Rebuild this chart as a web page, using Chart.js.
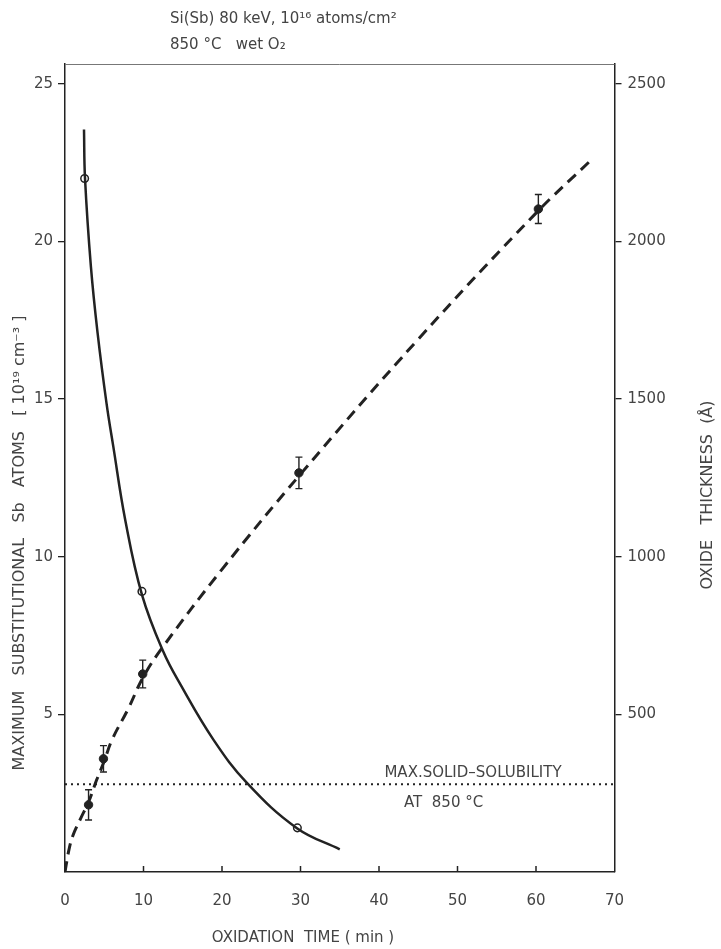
<!DOCTYPE html>
<html>
<head>
<meta charset="utf-8">
<script src="https://cdn.jsdelivr.net/npm/chart.js@4"></script>
<style>
  html, body { margin: 0; padding: 0; background: #fff; }
  #wrap { width: 721px; height: 949px; }
</style>
</head>
<body>
<div id="wrap"><canvas id="myChart" width="721" height="949"></canvas></div>
<script>
// substitutional Sb (left axis, 1e19 cm^-3) - fitted solid curve
const sbCurveT = [2.42, 2.55, 3.3, 4.15, 5.3, 6.15, 7.65, 9.8, 12.5, 14.7, 18.9, 23.2, 29.55, 35];
const sbCurveY = [23.55, 22.0, 19.2, 17.1, 14.85, 13.5, 11.2, 8.8, 7.0, 5.95, 4.2, 2.82, 1.39, 0.72];
// measured Sb points (open circles)
const sbPtT = [2.5, 9.8, 29.6];
const sbPtY = [22.0, 8.9, 1.4];
// oxide thickness (right axis, Angstrom) - dashed curve
const oxCurveT = [0, 0.5, 1, 2, 3, 4, 5, 6, 8, 10, 12.5, 20, 30, 45, 60, 67];
const oxCurveY = [0, 70, 115, 170, 222, 290, 352, 420, 515, 620, 715, 960, 1262, 1690, 2090, 2258];
// measured oxide points with error bars (filled circles)
const oxPtT = [3, 4.9, 9.9, 29.8, 60.3];
const oxPtY = [213, 359, 628, 1266, 2103];
const oxErr = [48, 42, 44, 50, 46];
// solid solubility limit at 850 C
const solLimit = 2.78;

const xTicks = [0, 10, 20, 30, 40, 50, 60, 70];
const leftTicks = [5, 10, 15, 20, 25];
const rightTicks = [500, 1000, 1500, 2000, 2500];

const ink = '#222';
const textCol = '#444';
const fontFam = '"DejaVu Sans", sans-serif';

const pts = (xs, ys) => xs.map((x, i) => ({x: x, y: ys[i]}));

const framePlugin = {
  id: 'frame',
  afterDatasetsDraw(chart) {
    const c = chart.ctx, a = chart.chartArea;
    const xs = chart.scales.x, y1 = chart.scales.y1;
    c.save();
    // top border
    c.strokeStyle = '#777';
    c.lineWidth = 1;
    c.beginPath(); c.moveTo(a.left, a.top + 0.5); c.lineTo(a.right, a.top + 0.5); c.stroke();
    // inward x ticks
    c.strokeStyle = ink;
    c.lineWidth = 1.5;
    xTicks.forEach(v => {
      if (v === 0 || v === 70) return;
      const px = xs.getPixelForValue(v);
      c.beginPath(); c.moveTo(px, a.bottom); c.lineTo(px, a.bottom - 6); c.stroke();
    });
    // error bars
    c.lineWidth = 1.4;
    oxPtT.forEach((t, i) => {
      const px = xs.getPixelForValue(t);
      const top = y1.getPixelForValue(oxPtY[i] + oxErr[i]);
      const bot = y1.getPixelForValue(oxPtY[i] - oxErr[i]);
      c.beginPath();
      c.moveTo(px, top); c.lineTo(px, bot);
      c.moveTo(px - 3.5, top); c.lineTo(px + 3.5, top);
      c.moveTo(px - 3.5, bot); c.lineTo(px + 3.5, bot);
      c.stroke();
    });
    // texts
    c.fillStyle = textCol;
    c.textBaseline = 'alphabetic';
    c.font = '15px ' + fontFam;
    c.textAlign = 'left';
    c.fillText('Si(Sb) 80 keV, 10\u00B9\u2076 atoms/cm\u00B2', 170, 23);
    c.fillText('850 \u00B0C   wet O\u2082', 170, 49);
    c.textAlign = 'center';
    c.fillText('MAX.SOLID\u2013SOLUBILITY', 473, 777);
    c.textAlign = 'left';
    c.fillText('AT  850 \u00B0C', 404, 807);
    c.textAlign = 'center';
    c.fillText('OXIDATION  TIME ( min )', 303, 942);
    c.save();
    c.font = '16px ' + fontFam;
    c.translate(24, 543);
    c.rotate(-Math.PI / 2);
    c.fillText('MAXIMUM   SUBSTITUTIONAL   Sb   ATOMS   [ 10\u00B9\u2079 cm\u207B\u00B3 ]', 0, 0);
    c.restore();
    c.save();
    c.font = '16px ' + fontFam;
    c.translate(712, 495);
    c.rotate(-Math.PI / 2);
    c.fillText('OXIDE   THICKNESS  (\u00C5)', 0, 0);
    c.restore();
    c.restore();
  }
};

const ctx = document.getElementById('myChart').getContext('2d');
const myChart = new Chart(ctx, {
  type: 'scatter',
  data: {
    datasets: [{
      data: pts(sbCurveT, sbCurveY),
      yAxisID: 'y',
      showLine: true,
      borderColor: ink,
      borderWidth: 2.5,
      pointRadius: 0,
      tension: 0.4
    }, {
      data: pts(sbPtT, sbPtY),
      yAxisID: 'y',
      pointRadius: 3.8,
      pointBackgroundColor: '#fff',
      pointBorderColor: ink,
      pointBorderWidth: 1.5
    }, {
      data: pts(oxCurveT, oxCurveY),
      yAxisID: 'y1',
      showLine: true,
      borderColor: ink,
      borderWidth: 3,
      borderDash: [11, 7],
      pointRadius: 0,
      tension: 0.4
    }, {
      data: pts(oxPtT, oxPtY),
      yAxisID: 'y1',
      pointRadius: 4.2,
      pointBackgroundColor: ink,
      pointBorderColor: ink
    }, {
      data: [{x: 0, y: solLimit}, {x: 70, y: solLimit}],
      yAxisID: 'y',
      showLine: true,
      borderColor: ink,
      borderWidth: 2,
      borderDash: [2, 4],
      pointRadius: 0
    }]
  },
  options: {
    responsive: false,
    animation: false,
    layout: { padding: { top: 64, left: 0, right: 0, bottom: 0 } },
    plugins: { legend: { display: false }, tooltip: { enabled: false } },
    scales: {
      x: {
        type: 'linear',
        min: 0, max: 70,
        afterFit: s => { s.height = 77; },
        afterBuildTicks: s => { s.ticks = xTicks.map(v => ({value: v})); },
        grid: { drawOnChartArea: false, drawTicks: false },
        border: { color: ink, width: 1.5 },
        ticks: { padding: 20, color: textCol, font: { family: fontFam, size: 15 }, callback: v => String(v) }
      },
      y: {
        position: 'left',
        min: 0, max: 25.63,
        afterFit: s => { s.width = 65; },
        afterBuildTicks: s => { s.ticks = leftTicks.map(v => ({value: v})); },
        grid: { drawOnChartArea: false, tickLength: 7, color: ink, lineWidth: 1.3 },
        border: { color: ink, width: 1.5 },
        ticks: { padding: 5, color: textCol, font: { family: fontFam, size: 15 }, callback: v => String(v) }
      },
      y1: {
        position: 'right',
        min: 0, max: 2563,
        afterFit: s => { s.width = 106.5; },
        afterBuildTicks: s => { s.ticks = rightTicks.map(v => ({value: v})); },
        grid: { drawOnChartArea: false, tickLength: 7, color: ink, lineWidth: 1.3 },
        border: { color: ink, width: 1.5 },
        ticks: { padding: 6, color: textCol, font: { family: fontFam, size: 15 }, callback: v => String(v) }
      }
    }
  },
  plugins: [framePlugin]
});
</script>
</body>
</html>
